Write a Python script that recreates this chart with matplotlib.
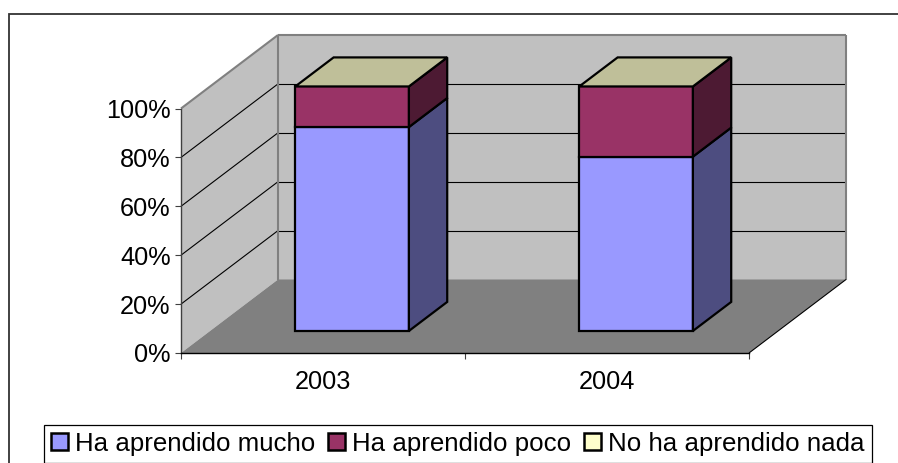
import matplotlib
matplotlib.use("Agg")
import matplotlib.pyplot as plt
from matplotlib.patches import Polygon, Patch, Rectangle

plt.rcParams['font.family'] = ['Liberation Sans', 'DejaVu Sans']

years = ['2003', '2004']
mucho = [83.4, 71.3]
poco = [16.6, 28.7]
nada = [0.0, 0.0]
series_names = ['Ha aprendido mucho', 'Ha aprendido poco', 'No ha aprendido nada']
y_ticks = [0, 20, 40, 60, 80, 100]
y_labels = ['0%', '20%', '40%', '60%', '80%', '100%']

W, H = 898, 463
FS = 18.2
FS_LEG = 18.6
fig = plt.figure(figsize=(W / 100, H / 100), dpi=100)
fig.patch.set_facecolor('white')

# outer chart border runs off the right and bottom of the image
fig.add_artist(Rectangle((9 / W, -0.1), 1.0, 1.1 - 14 / H, transform=fig.transFigure,
                         fill=False, edgecolor='#333333', linewidth=1.3))

# front plane of the 3D box, in pixels
L, R, T, B = 181, 749, 108.5, 353
ax = fig.add_axes([L / W, 1 - B / H, (R - L) / W, (B - T) / H])
ax.set_xlim(0, 2)
ax.set_ylim(0, 100)
ax.patch.set_visible(False)

DX = 97 / ((R - L) / 2)          # depth shift in x data units
DY = 73.5 / ((B - T) / 100)      # depth shift in y data units


def proj(x, v, d):
    return (x + d * DX, v + d * DY)


def face(points, fc, ec='none', lw=0.0, z=1):
    ax.add_patch(Polygon([proj(*p) for p in points], closed=True, facecolor=fc,
                         edgecolor=ec, linewidth=lw, zorder=z, clip_on=False,
                         joinstyle='miter'))


# walls and floor
face([(0, 0, 0), (0, 100, 0), (0, 100, 1), (0, 0, 1)], '#C0C0C0', z=1)
face([(0, 0, 1), (0, 100, 1), (2, 100, 1), (2, 0, 1)], '#C0C0C0', z=1)
face([(0, 0, 0), (0, 0, 1), (2, 0, 1), (2, 0, 0)], '#808080', z=1.5)


def seg(a, b, color='black', lw=0.8, z=2):
    pa, pb = proj(*a), proj(*b)
    ax.plot([pa[0], pb[0]], [pa[1], pb[1]], color=color, lw=lw, zorder=z,
            clip_on=False, solid_capstyle='butt')


for v in y_ticks[1:-1]:
    seg((0, v, 0), (0, v, 1))
    seg((0, v, 1), (2, v, 1))
seg((0, 100, 0), (0, 100, 1), color='#808080', lw=1.5)
seg((0, 100, 1), (2, 100, 1), color='#808080', lw=1.5, z=1.8)
seg((0, 0, 1), (0, 100, 1), color='#808080', lw=1.5)
seg((2, 0, 1), (2, 100, 1), color='#808080', lw=1.5)
seg((2, 0, 0), (2, 0, 1), color='black', lw=0.8)

# stacked bars
front_colors = ['#9999FF', '#993366']
side_colors = ['#4D4D80', '#4D1A33']
top_color = '#BFBF99'
bw, d0, d1 = 0.4, 0.3, 0.695
EC, LW = 'black', 1.6
for i in range(len(years)):
    x0, x1 = i + 0.5 - bw / 2, i + 0.5 + bw / 2
    base = 0.0
    for vals, fc, sc in zip([mucho, poco], front_colors, side_colors):
        v0, v1 = base, base + vals[i]
        face([(x0, v0, d0), (x1, v0, d0), (x1, v1, d0), (x0, v1, d0)], fc, EC, LW, 3)
        face([(x1, v0, d0), (x1, v0, d1), (x1, v1, d1), (x1, v1, d0)], sc, EC, LW, 3)
        base = v1
    top = base + nada[i]
    face([(x0, top, d0), (x1, top, d0), (x1, top, d1), (x0, top, d1)], top_color, EC, LW, 3)

# axes
for s in ['top', 'right']:
    ax.spines[s].set_visible(False)
ax.spines['left'].set_color('#404040')
ax.spines['left'].set_linewidth(1.0)
ax.spines['bottom'].set_color('black')
ax.spines['bottom'].set_linewidth(1.0)
for s in ax.spines.values():
    s.set_zorder(2.5)
ax.set_yticks(y_ticks)
ax.set_yticklabels(y_labels, fontsize=FS, color='black')
ax.tick_params(axis='y', length=4.5, width=0.8, pad=3, color='#404040')
ax.set_xticks([0, 1, 2])
ax.set_xticklabels([])
ax.tick_params(axis='x', which='major', length=4.5, width=0.8, color='#404040')
ax.set_xticks([0.5, 1.5], minor=True)
ax.set_xticklabels(years, minor=True, fontsize=FS, color='black')
ax.tick_params(axis='x', which='minor', length=0, pad=12)

# legend
handles = [Patch(facecolor=c, edgecolor='black', linewidth=1.8)
           for c in ['#9999FF', '#993366', '#FFFFCC']]
leg = fig.legend(handles, series_names, ncols=3, loc='lower left',
                 bbox_to_anchor=(44 / W, 1 - 462.5 / H),
                 borderaxespad=0, fontsize=FS_LEG, fancybox=False,
                 framealpha=1, edgecolor='black', handlelength=0.66, handleheight=0.66,
                 handletextpad=0.27, columnspacing=0.5, borderpad=0.27)
leg.get_frame().set_linewidth(0.9)

fig.savefig('out.png', dpi=100)
